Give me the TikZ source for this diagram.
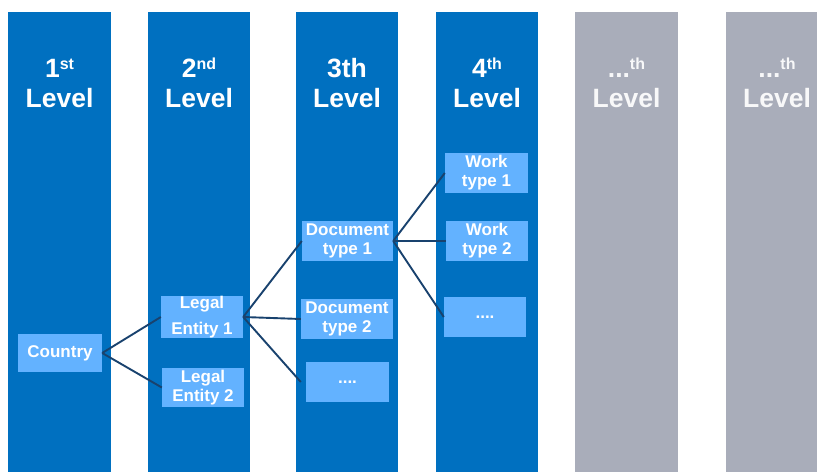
\documentclass[tikz,border=0pt]{standalone}
\usepackage{fontspec}
\setmainfont{Liberation Sans}

\definecolor{colblue}{RGB}{0,112,192}
\definecolor{colgray}{RGB}{169,173,186}
\definecolor{boxblue}{RGB}{99,178,255}
\definecolor{linkblue}{RGB}{25,66,110}

\newcommand{\lvlsup}[1]{\raisebox{8pt}{\fontsize{16}{16}\selectfont #1}}

\begin{document}
\begin{tikzpicture}[x=1pt, y=-1pt,
    column/.style={fill=colblue, inner sep=0pt, minimum width=103pt, minimum height=460.5pt},
    title/.style={text=white, align=center, inner sep=0pt, font=\fontsize{26.5}{30}\selectfont\bfseries},
    item/.style={fill=boxblue, text=white, align=center, inner sep=0pt, minimum width=82pt, minimum height=40pt, font=\fontsize{17}{19}\selectfont\bfseries},
    link/.style={draw=linkblue, line width=1.9pt}]
      \useasboundingbox (0, 0) rectangle (817, 474);

        % Columns
        \node[column] (c1) at (59.5, 241.75) {};
        \node[column, minimum width=102pt] (c2) at (199, 241.75) {};
        \node[column, minimum width=102pt] (c3) at (347, 241.75) {};
        \node[column, minimum width=102pt] (c4) at (487, 241.75) {};
        \node[column, fill=colgray] (c5) at (626.5, 241.75) {};
        \node[column, fill=colgray, minimum width=91pt] (c6) at (771.5, 241.75) {};

        % Titles
        \node[title] (t1) at (59.5, 83) {1\lvlsup{st}\\Level};
        \node[title] (t2) at (199, 83) {2\lvlsup{nd}\\Level};
        \node[title] (t3) at (347, 83) {3th\\Level};
        \node[title] (t4) at (487, 83) {4\lvlsup{th}\\Level};
        \node[title, text=white!92!colgray] (t5) at (626.5, 83) {...\lvlsup{th}\\Level};
        \node[title, text=white!92!colgray] (t6) at (777, 83) {...\lvlsup{th}\\Level};

        % Boxes
        \node[item, minimum width=84pt, minimum height=38pt] (country) at (60, 353) {Country};
        \node[item, font=\fontsize{17}{26}\selectfont\bfseries] (le1) at (202, 317) {Legal\\Entity 1};
        \node[item, minimum height=39pt] (le2) at (203, 387.5) {Legal\\Entity 2};
        \node[item, minimum width=91pt] (doc1) at (347.5, 241) {Document\\type 1};
        \node[item, minimum width=92pt] (doc2) at (347, 319) {Document\\type 2};
        \node[item, minimum width=83pt] (doc3) at (347.5, 382) {....};
        \node[item, minimum width=83pt] (work1) at (486.5, 173) {Work\\type 1};
        \node[item] (work2) at (487, 241) {Work\\type 2};
        \node[item] (work3) at (485, 317) {....};

        % Links
        \draw[link] (country.east) -- (le1.west);
        \draw[link] (country.east) -- (le2.west);
        \draw[link] (le1.east) -- (doc1.west);
        \draw[link] (le1.east) -- (doc2.west);
        \draw[link] (le1.east) -- ([xshift=-5pt]doc3.west);
        \draw[link] (doc1.east) -- (work1.west);
        \draw[link] (doc1.east) -- (work2.west);
        \draw[link] (doc1.east) -- (work3.west);

    \end{tikzpicture}
\end{document}
